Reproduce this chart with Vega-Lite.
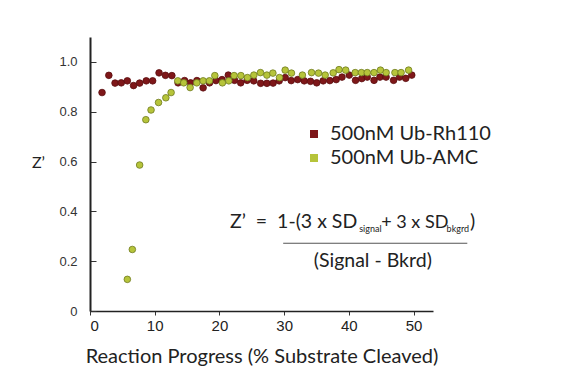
{
  "$schema": "https://vega.github.io/schema/vega-lite/v6.json",
  "width": 343,
  "height": 274,
  "autosize": {"type": "none"},
  "padding": {"left": 90, "top": 37, "right": 128, "bottom": 78},
  "background": "white",
  "config": {"view": {"stroke": null}},
  "datasets": {
    "pts": [
      {"series": "500nM Ub-Rh110", "x": 1.86, "z": 0.877},
      {"series": "500nM Ub-Rh110", "x": 2.91, "z": 0.946},
      {"series": "500nM Ub-Rh110", "x": 3.87, "z": 0.915},
      {"series": "500nM Ub-Rh110", "x": 4.83, "z": 0.916},
      {"series": "500nM Ub-Rh110", "x": 5.77, "z": 0.924},
      {"series": "500nM Ub-Rh110", "x": 6.73, "z": 0.905},
      {"series": "500nM Ub-Rh110", "x": 7.67, "z": 0.915},
      {"series": "500nM Ub-Rh110", "x": 8.69, "z": 0.924},
      {"series": "500nM Ub-Rh110", "x": 9.68, "z": 0.924},
      {"series": "500nM Ub-Rh110", "x": 10.67, "z": 0.956},
      {"series": "500nM Ub-Rh110", "x": 11.66, "z": 0.946},
      {"series": "500nM Ub-Rh110", "x": 12.65, "z": 0.945},
      {"series": "500nM Ub-Rh110", "x": 13.61, "z": 0.916},
      {"series": "500nM Ub-Rh110", "x": 14.61, "z": 0.925},
      {"series": "500nM Ub-Rh110", "x": 15.54, "z": 0.916},
      {"series": "500nM Ub-Rh110", "x": 16.52, "z": 0.925},
      {"series": "500nM Ub-Rh110", "x": 17.48, "z": 0.896},
      {"series": "500nM Ub-Rh110", "x": 18.47, "z": 0.916},
      {"series": "500nM Ub-Rh110", "x": 19.46, "z": 0.925},
      {"series": "500nM Ub-Rh110", "x": 20.41, "z": 0.929},
      {"series": "500nM Ub-Rh110", "x": 21.37, "z": 0.947},
      {"series": "500nM Ub-Rh110", "x": 22.33, "z": 0.926},
      {"series": "500nM Ub-Rh110", "x": 23.29, "z": 0.916},
      {"series": "500nM Ub-Rh110", "x": 24.28, "z": 0.926},
      {"series": "500nM Ub-Rh110", "x": 25.3, "z": 0.924},
      {"series": "500nM Ub-Rh110", "x": 26.37, "z": 0.914},
      {"series": "500nM Ub-Rh110", "x": 27.33, "z": 0.914},
      {"series": "500nM Ub-Rh110", "x": 28.29, "z": 0.915},
      {"series": "500nM Ub-Rh110", "x": 29.23, "z": 0.924},
      {"series": "500nM Ub-Rh110", "x": 30.16, "z": 0.937},
      {"series": "500nM Ub-Rh110", "x": 31.09, "z": 0.925},
      {"series": "500nM Ub-Rh110", "x": 32.09, "z": 0.929},
      {"series": "500nM Ub-Rh110", "x": 33.1, "z": 0.924},
      {"series": "500nM Ub-Rh110", "x": 34.07, "z": 0.922},
      {"series": "500nM Ub-Rh110", "x": 35.03, "z": 0.916},
      {"series": "500nM Ub-Rh110", "x": 36.03, "z": 0.924},
      {"series": "500nM Ub-Rh110", "x": 37.06, "z": 0.925},
      {"series": "500nM Ub-Rh110", "x": 38.04, "z": 0.929},
      {"series": "500nM Ub-Rh110", "x": 38.94, "z": 0.939},
      {"series": "500nM Ub-Rh110", "x": 40.06, "z": 0.947},
      {"series": "500nM Ub-Rh110", "x": 41.03, "z": 0.926},
      {"series": "500nM Ub-Rh110", "x": 41.99, "z": 0.933},
      {"series": "500nM Ub-Rh110", "x": 42.84, "z": 0.939},
      {"series": "500nM Ub-Rh110", "x": 43.89, "z": 0.926},
      {"series": "500nM Ub-Rh110", "x": 44.8, "z": 0.939},
      {"series": "500nM Ub-Rh110", "x": 45.75, "z": 0.939},
      {"series": "500nM Ub-Rh110", "x": 46.91, "z": 0.926},
      {"series": "500nM Ub-Rh110", "x": 47.83, "z": 0.939},
      {"series": "500nM Ub-Rh110", "x": 48.79, "z": 0.934},
      {"series": "500nM Ub-Rh110", "x": 49.72, "z": 0.947},
      {"series": "500nM Ub-AMC", "x": 5.77, "z": 0.127},
      {"series": "500nM Ub-AMC", "x": 6.54, "z": 0.247},
      {"series": "500nM Ub-AMC", "x": 7.67, "z": 0.586},
      {"series": "500nM Ub-AMC", "x": 8.63, "z": 0.768},
      {"series": "500nM Ub-AMC", "x": 9.43, "z": 0.807},
      {"series": "500nM Ub-AMC", "x": 10.59, "z": 0.837},
      {"series": "500nM Ub-AMC", "x": 11.72, "z": 0.856},
      {"series": "500nM Ub-AMC", "x": 12.53, "z": 0.877},
      {"series": "500nM Ub-AMC", "x": 13.56, "z": 0.924},
      {"series": "500nM Ub-AMC", "x": 14.49, "z": 0.916},
      {"series": "500nM Ub-AMC", "x": 15.47, "z": 0.897},
      {"series": "500nM Ub-AMC", "x": 16.5, "z": 0.916},
      {"series": "500nM Ub-AMC", "x": 17.48, "z": 0.924},
      {"series": "500nM Ub-AMC", "x": 18.45, "z": 0.924},
      {"series": "500nM Ub-AMC", "x": 19.29, "z": 0.945},
      {"series": "500nM Ub-AMC", "x": 20.46, "z": 0.916},
      {"series": "500nM Ub-AMC", "x": 21.45, "z": 0.924},
      {"series": "500nM Ub-AMC", "x": 22.27, "z": 0.945},
      {"series": "500nM Ub-AMC", "x": 23.32, "z": 0.945},
      {"series": "500nM Ub-AMC", "x": 24.33, "z": 0.937},
      {"series": "500nM Ub-AMC", "x": 25.32, "z": 0.947},
      {"series": "500nM Ub-AMC", "x": 26.34, "z": 0.957},
      {"series": "500nM Ub-AMC", "x": 27.33, "z": 0.947},
      {"series": "500nM Ub-AMC", "x": 28.26, "z": 0.955},
      {"series": "500nM Ub-AMC", "x": 29.28, "z": 0.937},
      {"series": "500nM Ub-AMC", "x": 30.16, "z": 0.967},
      {"series": "500nM Ub-AMC", "x": 31.13, "z": 0.955},
      {"series": "500nM Ub-AMC", "x": 32.82, "z": 0.947},
      {"series": "500nM Ub-AMC", "x": 34.23, "z": 0.957},
      {"series": "500nM Ub-AMC", "x": 35.31, "z": 0.955},
      {"series": "500nM Ub-AMC", "x": 36.34, "z": 0.947},
      {"series": "500nM Ub-AMC", "x": 37.58, "z": 0.956},
      {"series": "500nM Ub-AMC", "x": 38.48, "z": 0.969},
      {"series": "500nM Ub-AMC", "x": 39.51, "z": 0.967},
      {"series": "500nM Ub-AMC", "x": 40.98, "z": 0.957},
      {"series": "500nM Ub-AMC", "x": 41.94, "z": 0.957},
      {"series": "500nM Ub-AMC", "x": 42.84, "z": 0.957},
      {"series": "500nM Ub-AMC", "x": 43.89, "z": 0.957},
      {"series": "500nM Ub-AMC", "x": 44.88, "z": 0.967},
      {"series": "500nM Ub-AMC", "x": 45.76, "z": 0.957},
      {"series": "500nM Ub-AMC", "x": 47.12, "z": 0.957},
      {"series": "500nM Ub-AMC", "x": 48.07, "z": 0.957},
      {"series": "500nM Ub-AMC", "x": 49.23, "z": 0.967}
    ],
    "one": [{"note": "annotation"}]
  },
  "layer": [
    {
      "data": {"name": "pts"},
      "mark": {"type": "point", "filled": true, "size": 44, "opacity": 1, "strokeWidth": 0.8},
      "encoding": {
        "x": {
          "field": "x", "type": "quantitative",
          "scale": {"domain": [0, 53], "nice": false, "zero": false},
          "axis": {
            "values": [0, 10, 20, 30, 40, 50],
            "grid": false,
            "title": "Reaction Progress (% Substrate Cleaved)",
            "titleFont": "Lato", "titleFontSize": 20, "titleFontWeight": "normal", "titleColor": "#222",
            "titlePadding": 13,
            "labelFont": "Liberation Sans", "labelFontSize": 15, "labelColor": "#222",
            "labelPadding": 3,
            "tickSize": 4, "tickColor": "#333", "tickWidth": 1,
            "domainColor": "#222", "domainWidth": 1.5
          }
        },
        "y": {
          "field": "z", "type": "quantitative",
          "scale": {"domain": [0, 1.1], "nice": false},
          "axis": {
            "values": [0, 0.2, 0.4, 0.6, 0.8, 1.0],
            "labelExpr": "datum.value == 0 ? '0' : format(datum.value, '.1f')",
            "grid": false,
            "title": "Z’",
            "titleAngle": 0, "titleFont": "Lato", "titleFontSize": 16, "titleFontWeight": "normal", "titleColor": "#222",
            "titleX": -52, "titleY": 125, "titleAlign": "center", "titleBaseline": "middle",
            "labelFont": "Liberation Sans", "labelFontSize": 13, "labelColor": "#333",
            "labelPadding": 19,
            "tickSize": -6, "tickColor": "#333", "tickWidth": 1,
            "domainColor": "#222", "domainWidth": 2
          }
        },
        "color": {
          "field": "series", "type": "nominal",
          "scale": {"domain": ["500nM Ub-Rh110", "500nM Ub-AMC"], "range": ["#7E1719", "#B6C43A"]},
          "legend": {
            "orient": "none", "legendX": 214, "legendY": 87,
            "title": null, "symbolType": "square", "symbolSize": 64, "symbolStrokeWidth": 0,
            "symbolOpacity": 1,
            "labelFont": "Lato", "labelFontSize": 20, "labelColor": "#222", "labelOffset": 6,
            "labelLimit": 400,
            "rowPadding": 4, "padding": 0
          }
        },
        "stroke": {
          "field": "series", "type": "nominal",
          "scale": {"domain": ["500nM Ub-Rh110", "500nM Ub-AMC"], "range": ["#5a0c0e", "#6f7a1e"]},
          "legend": null
        }
      }
    },
    {
      "data": {"name": "one"},
      "mark": {"type": "text", "font": "Lato", "fontSize": 19.5, "align": "right", "baseline": "alphabetic", "color": "#222"},
      "encoding": {"x": {"datum": 41.3, "type": "quantitative"}, "y": {"datum": 0.335, "type": "quantitative"}, "text": {"value": "Z’\u00a0 = \u00a01-(3 x SD"}}
    },
    {
      "data": {"name": "one"},
      "mark": {"type": "text", "font": "Lato", "fontSize": 9, "align": "left", "baseline": "alphabetic", "color": "#222"},
      "encoding": {"x": {"datum": 41.6, "type": "quantitative"}, "y": {"datum": 0.317, "type": "quantitative"}, "text": {"value": "signal"}}
    },
    {
      "data": {"name": "one"},
      "mark": {"type": "text", "font": "Lato", "fontSize": 18, "align": "left", "baseline": "alphabetic", "color": "#222"},
      "encoding": {"x": {"datum": 45.0, "type": "quantitative"}, "y": {"datum": 0.335, "type": "quantitative"}, "text": {"value": "+ 3 x SD"}}
    },
    {
      "data": {"name": "one"},
      "mark": {"type": "text", "font": "Lato", "fontSize": 9, "align": "left", "baseline": "alphabetic", "color": "#222"},
      "encoding": {"x": {"datum": 55.1, "type": "quantitative"}, "y": {"datum": 0.317, "type": "quantitative"}, "text": {"value": "bkgrd"}}
    },
    {
      "data": {"name": "one"},
      "mark": {"type": "text", "font": "Lato", "fontSize": 19.5, "align": "left", "baseline": "alphabetic", "color": "#222"},
      "encoding": {"x": {"datum": 58.7, "type": "quantitative"}, "y": {"datum": 0.335, "type": "quantitative"}, "text": {"value": ")"}}
    },
    {
      "data": {"name": "one"},
      "mark": {"type": "rule", "color": "#555", "strokeWidth": 1.2},
      "encoding": {"x": {"datum": 29.85, "type": "quantitative"}, "x2": {"datum": 58.3}, "y": {"datum": 0.272, "type": "quantitative"}}
    },
    {
      "data": {"name": "one"},
      "mark": {"type": "text", "font": "Lato", "fontSize": 19.5, "align": "center", "baseline": "alphabetic", "color": "#222"},
      "encoding": {"x": {"datum": 43.7, "type": "quantitative"}, "y": {"datum": 0.177, "type": "quantitative"}, "text": {"value": "(Signal - Bkrd)"}}
    }
  ]
}
